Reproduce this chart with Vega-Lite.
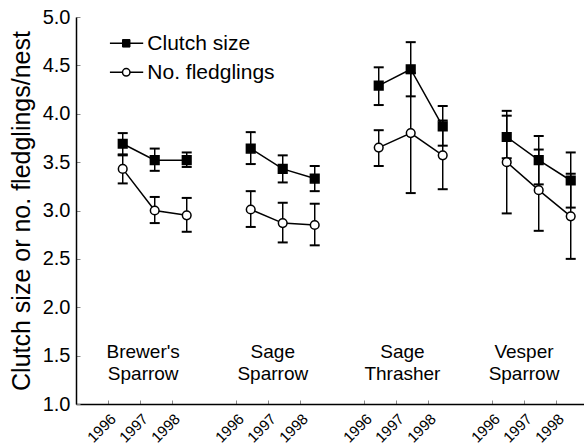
{
  "$schema": "https://vega.github.io/schema/vega-lite/v6.json",
  "width": 508,
  "height": 387,
  "autosize": {"type": "none"},
  "padding": {"left": 76, "top": 17, "right": 0, "bottom": 41},
  "config": {
    "view": {"stroke": null},
    "font": "Liberation Sans",
    "axis": {"grid": false, "domainColor": "black", "domainWidth": 1.5, "tickColor": "#888", "tickWidth": 1, "labelColor": "black", "titleColor": "black"}
  },
  "datasets": {
    "obs": [
      {"group": "Brewer's Sparrow", "series": "Clutch size", "year": 1996, "pos": 1.46, "mean": 3.69, "lo": 3.58, "hi": 3.80},
      {"group": "Brewer's Sparrow", "series": "Clutch size", "year": 1997, "pos": 2.46, "mean": 3.52, "lo": 3.41, "hi": 3.64},
      {"group": "Brewer's Sparrow", "series": "Clutch size", "year": 1998, "pos": 3.46, "mean": 3.52, "lo": 3.45, "hi": 3.60},
      {"group": "Brewer's Sparrow", "series": "No. fledglings", "year": 1996, "pos": 1.46, "mean": 3.43, "lo": 3.28, "hi": 3.57},
      {"group": "Brewer's Sparrow", "series": "No. fledglings", "year": 1997, "pos": 2.46, "mean": 3.00, "lo": 2.87, "hi": 3.14},
      {"group": "Brewer's Sparrow", "series": "No. fledglings", "year": 1998, "pos": 3.46, "mean": 2.95, "lo": 2.78, "hi": 3.13},
      {"group": "Sage Sparrow", "series": "Clutch size", "year": 1996, "pos": 5.46, "mean": 3.64, "lo": 3.48, "hi": 3.81},
      {"group": "Sage Sparrow", "series": "Clutch size", "year": 1997, "pos": 6.46, "mean": 3.43, "lo": 3.29, "hi": 3.57},
      {"group": "Sage Sparrow", "series": "Clutch size", "year": 1998, "pos": 7.46, "mean": 3.33, "lo": 3.20, "hi": 3.46},
      {"group": "Sage Sparrow", "series": "No. fledglings", "year": 1996, "pos": 5.46, "mean": 3.01, "lo": 2.83, "hi": 3.20},
      {"group": "Sage Sparrow", "series": "No. fledglings", "year": 1997, "pos": 6.46, "mean": 2.87, "lo": 2.67, "hi": 3.08},
      {"group": "Sage Sparrow", "series": "No. fledglings", "year": 1998, "pos": 7.46, "mean": 2.85, "lo": 2.64, "hi": 3.07},
      {"group": "Sage Thrasher", "series": "Clutch size", "year": 1996, "pos": 9.46, "mean": 4.29, "lo": 4.09, "hi": 4.48},
      {"group": "Sage Thrasher", "series": "Clutch size", "year": 1997, "pos": 10.46, "mean": 4.46, "lo": 4.18, "hi": 4.74},
      {"group": "Sage Thrasher", "series": "Clutch size", "year": 1998, "pos": 11.46, "mean": 3.87, "lo": 3.67, "hi": 4.08},
      {"group": "Sage Thrasher", "series": "No. fledglings", "year": 1996, "pos": 9.46, "mean": 3.65, "lo": 3.46, "hi": 3.83},
      {"group": "Sage Thrasher", "series": "No. fledglings", "year": 1997, "pos": 10.46, "mean": 3.80, "lo": 3.18, "hi": 4.42},
      {"group": "Sage Thrasher", "series": "No. fledglings", "year": 1998, "pos": 11.46, "mean": 3.57, "lo": 3.22, "hi": 3.93},
      {"group": "Vesper Sparrow", "series": "Clutch size", "year": 1996, "pos": 13.46, "mean": 3.76, "lo": 3.54, "hi": 3.98},
      {"group": "Vesper Sparrow", "series": "Clutch size", "year": 1997, "pos": 14.46, "mean": 3.52, "lo": 3.27, "hi": 3.77},
      {"group": "Vesper Sparrow", "series": "Clutch size", "year": 1998, "pos": 15.46, "mean": 3.31, "lo": 3.03, "hi": 3.60},
      {"group": "Vesper Sparrow", "series": "No. fledglings", "year": 1996, "pos": 13.46, "mean": 3.50, "lo": 2.97, "hi": 4.03},
      {"group": "Vesper Sparrow", "series": "No. fledglings", "year": 1997, "pos": 14.46, "mean": 3.21, "lo": 2.79, "hi": 3.63},
      {"group": "Vesper Sparrow", "series": "No. fledglings", "year": 1998, "pos": 15.46, "mean": 2.94, "lo": 2.50, "hi": 3.38}
    ],
    "groups": [
      {"label": "Brewer's\nSparrow", "pos": 2.1},
      {"label": "Sage\nSparrow", "pos": 6.15},
      {"label": "Sage\nThrasher", "pos": 10.2},
      {"label": "Vesper\nSparrow", "pos": 14.0}
    ],
    "clutch": [{"series": "Clutch size"}],
    "fledge": [{"series": "No. fledglings"}]
  },
  "layer": [
    {
      "mark": {"type": "rule", "color": "#555", "strokeWidth": 1.5},
      "encoding": {"y": {"datum": 5, "type": "quantitative"}}
    },
    {
      "data": {"name": "groups"},
      "mark": {"type": "text", "fontSize": 19, "lineBreak": "\n", "lineHeight": 22, "baseline": "alphabetic", "align": "center", "color": "black"},
      "encoding": {
        "x": {"field": "pos", "type": "quantitative"},
        "y": {"datum": 1.48, "type": "quantitative"},
        "text": {"field": "label"}
      }
    },
    {
      "data": {"name": "clutch"},
      "mark": {"type": "rule", "color": "black", "strokeWidth": 1.5},
      "encoding": {
        "x": {"datum": 1.06, "type": "quantitative"},
        "x2": {"datum": 2.1},
        "y": {"datum": 4.728, "type": "quantitative"}
      }
    },
    {
      "data": {"name": "fledge"},
      "mark": {"type": "rule", "color": "black", "strokeWidth": 1.5},
      "encoding": {
        "x": {"datum": 1.06, "type": "quantitative"},
        "x2": {"datum": 2.1},
        "y": {"datum": 4.428, "type": "quantitative"}
      }
    },
    {
      "data": {"name": "clutch"},
      "mark": {"type": "point", "shape": "square", "filled": true, "fill": "black", "stroke": "black", "strokeWidth": 1, "size": 56, "opacity": 1},
      "encoding": {
        "x": {"datum": 1.57, "type": "quantitative"},
        "y": {"datum": 4.728, "type": "quantitative"}
      }
    },
    {
      "data": {"name": "fledge"},
      "mark": {"type": "point", "shape": "circle", "filled": true, "fill": "white", "stroke": "black", "strokeWidth": 1.5, "size": 56, "opacity": 1},
      "encoding": {
        "x": {"datum": 1.57, "type": "quantitative"},
        "y": {"datum": 4.428, "type": "quantitative"}
      }
    },
    {
      "data": {"name": "clutch"},
      "mark": {"type": "text", "fontSize": 21, "align": "left", "baseline": "middle", "color": "black", "dy": 1},
      "encoding": {
        "x": {"datum": 2.23, "type": "quantitative"},
        "y": {"datum": 4.728, "type": "quantitative"},
        "text": {"field": "series"}
      }
    },
    {
      "data": {"name": "fledge"},
      "mark": {"type": "text", "fontSize": 21, "align": "left", "baseline": "middle", "color": "black", "dy": 1},
      "encoding": {
        "x": {"datum": 2.23, "type": "quantitative"},
        "y": {"datum": 4.428, "type": "quantitative"},
        "text": {"field": "series"}
      }
    },
    {
      "data": {"name": "obs"},
      "mark": {"type": "rule", "color": "black", "strokeWidth": 1.5},
      "encoding": {
        "x": {"field": "pos", "type": "quantitative"},
        "y": {"field": "lo", "type": "quantitative"},
        "y2": {"field": "hi"}
      }
    },
    {
      "data": {"name": "obs"},
      "mark": {"type": "tick", "orient": "horizontal", "color": "black", "size": 10, "thickness": 2, "opacity": 1},
      "encoding": {
        "x": {"field": "pos", "type": "quantitative"},
        "y": {"field": "lo", "type": "quantitative"}
      }
    },
    {
      "data": {"name": "obs"},
      "mark": {"type": "tick", "orient": "horizontal", "color": "black", "size": 10, "thickness": 2, "opacity": 1},
      "encoding": {
        "x": {"field": "pos", "type": "quantitative"},
        "y": {"field": "hi", "type": "quantitative"}
      }
    },
    {
      "data": {"name": "obs"},
      "mark": {"type": "line", "color": "black", "strokeWidth": 1.5},
      "encoding": {
        "x": {"field": "pos", "type": "quantitative"},
        "y": {"field": "mean", "type": "quantitative"},
        "detail": [{"field": "group"}, {"field": "series"}]
      }
    },
    {
      "data": {"name": "obs"},
      "mark": {"type": "point", "filled": false, "stroke": "black", "strokeWidth": 1.5, "size": 75, "opacity": 1},
      "encoding": {
        "x": {
          "field": "pos", "type": "quantitative",
          "scale": {"domain": [0, 15.875], "nice": false, "zero": false},
          "axis": {
            "title": null,
            "values": [1, 2, 3, 5, 6, 7, 9, 10, 11, 13, 14, 15],
            "labelExpr": "datum.value % 4 == 1 ? '1996' : (datum.value % 4 == 2 ? '1997' : '1998')",
            "labelAngle": -45,
            "labelAlign": "right",
            "labelBaseline": "top",
            "labelFontSize": 15,
            "labelOverlap": false,
            "labelBound": false,
            "tickSize": -4,
            "labelPadding": 11,
            "labelDx": 4
          }
        },
        "y": {
          "field": "mean", "type": "quantitative",
          "scale": {"domain": [1, 5], "nice": false, "zero": false},
          "axis": {
            "title": "Clutch size or no. fledglings/nest",
            "titleFontSize": 25,
            "titleFontWeight": "normal",
            "values": [1, 1.5, 2, 2.5, 3, 3.5, 4, 4.5, 5],
            "format": ".1f",
            "labelFontSize": 20,
            "tickSize": -4,
            "labelPadding": 10,
            "titlePadding": 8
          }
        },
        "shape": {
          "field": "series", "type": "nominal",
          "scale": {"domain": ["Clutch size", "No. fledglings"], "range": ["square", "circle"]},
          "legend": null
        },
        "fill": {
          "field": "series", "type": "nominal",
          "scale": {"domain": ["Clutch size", "No. fledglings"], "range": ["black", "white"]},
          "legend": null
        }
      }
    }
  ]
}
